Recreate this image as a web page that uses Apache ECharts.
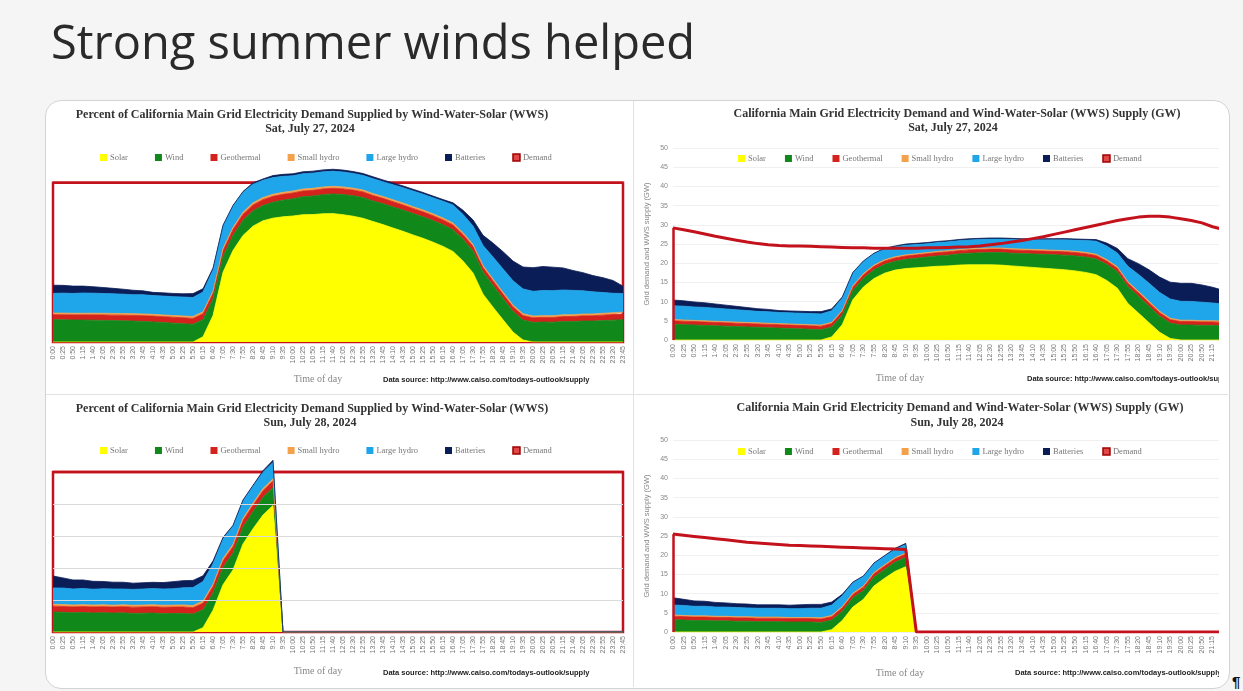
<!DOCTYPE html>
<html><head><meta charset="utf-8">
<script src="https://cdn.jsdelivr.net/npm/echarts@6/dist/echarts.min.js"></script>
<style>
html,body{margin:0;padding:0;background:#f4f5f4;width:1243px;height:691px;overflow:hidden;}
#panel{position:absolute;left:45px;top:100px;width:1183px;height:587px;border:1px solid #d2d4d2;border-radius:16px;background:#fff;}
.vdiv{position:absolute;left:633px;top:101px;width:1px;height:586px;background:#e2e2e2;}
.hdiv{position:absolute;left:46px;top:394px;width:1182px;height:1px;background:#e2e2e2;}
#c{position:absolute;left:0;top:0;width:1219px;height:691px;}
#pil{position:absolute;left:1232px;top:673px;font:bold 15px "Liberation Sans";color:#111;}
</style></head><body>
<div id="panel"></div><div class="vdiv"></div><div class="hdiv"></div>
<div id="c"></div>
<span id="pil">¶</span>
<script>
// ---- categories (time of day, 25-minute steps) ----
const categories = ["0:00","0:25","0:50","1:15","1:40","2:05","2:30","2:55","3:20","3:45",
"4:10","4:35","5:00","5:25","5:50","6:15","6:40","7:05","7:30","7:55",
"8:20","8:45","9:10","9:35","10:00","10:25","10:50","11:15","11:40","12:05",
"12:30","12:55","13:20","13:45","14:10","14:35","15:00","15:25","15:50","16:15",
"16:40","17:05","17:30","17:55","18:20","18:45","19:10","19:35","20:00","20:25",
"20:50","21:15","21:40","22:05","22:30","22:55","23:20","23:45"];

// ---- Sat, July 27, 2024 (GW) ----
const satDemand = [29.2,28.7,28.2,27.6,27.0,26.5,26.0,25.5,25.1,24.8,
24.6,24.5,24.5,24.4,24.3,24.2,24.1,24.0,24.0,23.9,
23.9,23.9,23.9,23.9,24.0,24.0,24.1,24.2,24.3,24.5,
24.8,25.1,25.5,25.9,26.4,26.9,27.5,28.1,28.7,29.3,
29.9,30.5,31.1,31.6,32.0,32.2,32.2,32.0,31.6,31.1,
30.5,29.5,28.8,28.1,27.4,26.8,26.2,25.7];
const satSolar = [0,0,0,0,0,0,0,0,0,0,
0,0,0,0,0,0.8,4.0,10.5,13.8,16.0,
17.4,18.2,18.6,18.8,19.0,19.2,19.3,19.5,19.6,19.6,
19.6,19.5,19.3,19.1,18.9,18.7,18.5,18.3,18.0,17.6,
17.0,15.5,13.5,9.5,7.0,4.5,2.0,0.4,0,0,
0,0,0,0,0,0,0,0];
const satWind = [4.1,4.0,3.9,3.8,3.7,3.6,3.5,3.4,3.3,3.2,
3.1,3.0,2.9,2.8,2.7,2.6,2.5,2.4,2.3,2.3,
2.3,2.3,2.4,2.5,2.6,2.7,2.8,2.9,3.0,3.1,
3.2,3.3,3.3,3.4,3.5,3.6,3.7,3.8,3.9,4.0,
4.1,4.2,4.3,4.4,4.4,4.3,4.2,4.0,3.9,3.9,
3.8,3.8,3.7,3.7,3.6,3.6,3.6,3.6];
const satGeo = [0.92,0.91,0.91,0.90,0.90,0.90,0.89,0.89,0.89,0.90,
0.90,0.90,0.91,0.91,0.90,0.90,0.89,0.89,0.88,0.88,
0.88,0.88,0.88,0.87,0.87,0.87,0.87,0.87,0.87,0.87,
0.87,0.87,0.87,0.87,0.87,0.87,0.88,0.88,0.88,0.88,
0.89,0.89,0.89,0.90,0.90,0.90,0.91,0.91,0.91,0.91,
0.91,0.91,0.92,0.92,0.92,0.92,0.92,0.92];
const satSmallHydro = [0.30,0.30,0.29,0.29,0.28,0.28,0.28,0.27,0.27,0.27,
0.27,0.27,0.27,0.28,0.29,0.30,0.31,0.32,0.32,0.32,
0.32,0.31,0.31,0.30,0.30,0.30,0.30,0.30,0.30,0.30,
0.30,0.30,0.30,0.30,0.31,0.31,0.31,0.32,0.33,0.34,
0.35,0.36,0.37,0.38,0.38,0.38,0.37,0.36,0.35,0.34,
0.33,0.33,0.32,0.32,0.31,0.31,0.30,0.30];
const satLargeHydro = [3.6,3.6,3.5,3.5,3.4,3.3,3.2,3.1,3.0,3.0,
2.9,2.9,2.9,2.9,2.9,3.0,3.2,3.4,3.2,3.0,
2.8,2.6,2.5,2.4,2.3,2.3,2.3,2.3,2.3,2.3,
2.3,2.3,2.4,2.4,2.5,2.6,2.7,2.8,2.9,3.1,
3.4,3.5,3.6,4.0,4.4,4.7,4.9,5.0,4.9,4.9,
4.8,4.6,4.4,4.1,3.8,3.5,3.2,3.0];
const satBatteries = [1.5,1.4,1.3,1.2,1.1,1.0,0.9,0.8,0.7,0.6,
0.5,0.5,0.5,0.5,0.6,0.5,0.3,0.1,0.1,0.1,
0.2,0.2,0.3,0.3,0.3,0.3,0.3,0.3,0.3,0.3,
0.3,0.3,0.3,0.3,0.3,0.3,0.3,0.3,0.3,0.3,
0.4,0.8,1.2,2.0,2.8,3.5,4.0,4.4,4.7,4.7,
4.5,4.1,3.6,3.2,2.8,2.5,2.1,1.2];

// ---- Sun, July 28, 2024 (GW), data ends after 9:10 ----
const sunDemand = [25.5,25.2,24.9,24.6,24.3,24.0,23.7,23.4,23.2,23.0,
22.8,22.6,22.5,22.4,22.3,22.2,22.1,22.0,21.9,21.8,
21.7,21.6,21.5,0,0,0,0,0,0,0,
0,0,0,0,0,0,0,0,0,0,
0,0,0,0,0,0,0,0,0,0,
0,0,0,0,0,0,0,0];
const sunSolar = [0,0,0,0,0,0,0,0,0,0,
0,0,0,0,0,0.6,3.0,6.5,8.5,12.0,
14.0,15.8,17.0,0,0,0,0,0,0,0,
0,0,0,0,0,0,0,0,0,0,
0,0,0,0,0,0,0,0,0,0,
0,0,0,0,0,0,0,0];
const sunWind = [3.2,3.1,3.0,3.0,2.9,2.9,2.8,2.8,2.7,2.7,
2.7,2.6,2.6,2.6,2.5,2.5,2.4,2.4,2.3,2.3,
2.3,2.4,2.4,0,0,0,0,0,0,0,
0,0,0,0,0,0,0,0,0,0,
0,0,0,0,0,0,0,0,0,0,
0,0,0,0,0,0,0,0];
const sunGeo = [0.92,0.92,0.91,0.91,0.91,0.90,0.90,0.90,0.90,0.90,
0.90,0.90,0.90,0.90,0.89,0.89,0.89,0.88,0.88,0.88,
0.88,0.88,0.88,0,0,0,0,0,0,0,
0,0,0,0,0,0,0,0,0,0,
0,0,0,0,0,0,0,0,0,0,
0,0,0,0,0,0,0,0];
const sunSmallHydro = [0.30,0.30,0.29,0.29,0.29,0.28,0.28,0.28,0.28,0.28,
0.28,0.28,0.28,0.29,0.30,0.31,0.32,0.32,0.32,0.31,
0.31,0.30,0.30,0,0,0,0,0,0,0,
0,0,0,0,0,0,0,0,0,0,
0,0,0,0,0,0,0,0,0,0,
0,0,0,0,0,0,0,0];
const sunLargeHydro = [2.6,2.6,2.5,2.5,2.4,2.4,2.4,2.3,2.3,2.3,
2.3,2.3,2.3,2.4,2.5,2.7,2.8,2.7,2.5,2.4,
2.3,2.2,2.2,0,0,0,0,0,0,0,
0,0,0,0,0,0,0,0,0,0,
0,0,0,0,0,0,0,0,0,0,
0,0,0,0,0,0,0,0];
const sunBatteries = [1.9,1.6,1.4,1.3,1.2,1.1,1.0,1.0,0.9,0.9,
0.9,0.9,1.0,1.0,1.0,0.8,0.4,0.2,0.1,0.1,
0.1,0.2,0.3,0,0,0,0,0,0,0,
0,0,0,0,0,0,0,0,0,0,
0,0,0,0,0,0,0,0,0,0,
0,0,0,0,0,0,0,0];

const seriesNames = ['Solar','Wind','Geothermal','Small hydro','Large hydro','Batteries'];
const seriesColors = ['#ffff00','#11891a','#d4231c','#f5a04a','#1fa6ea','#0b1d57'];
const demandColor = '#c3121c';

const days = [
  {dem: satDemand, parts: [satSolar, satWind, satGeo, satSmallHydro, satLargeHydro, satBatteries]},
  {dem: sunDemand, parts: [sunSolar, sunWind, sunGeo, sunSmallHydro, sunLargeHydro, sunBatteries]}
];
const panels = [
  {day:0, pct:true,  grid:{left:53, top:151, width:570, height:191}, legend:{left:100, top:153, gap:27}},
  {day:0, pct:false, grid:{left:673, top:148, width:603, height:192}, legend:{left:738, top:154, gap:19}},
  {day:1, pct:true,  grid:{left:53, top:440, width:570, height:192}, legend:{left:100, top:446, gap:27}},
  {day:1, pct:false, grid:{left:673, top:440, width:603, height:192}, legend:{left:738, top:447, gap:19}}
];

function toPct(arr, dem){ return arr.map((v,i)=> dem[i] > 0 ? +(v/dem[i]*100).toFixed(2) : 0); }

const grid=[], xAxis=[], yAxis=[], series=[], legend=[];
const legendData = seriesNames.concat(['Demand']).map(n => n === 'Demand'
  ? {name:n, itemStyle:{color:'#e04848', borderColor:'#a00000', borderWidth:1.5}}
  : {name:n});

panels.forEach((p, g) => {
  const d = days[p.day];
  grid.push(Object.assign({outerBoundsMode:'none', containLabel:false}, p.grid));
  xAxis.push({type:'category', gridIndex:g, data:categories, boundaryGap:false,
    axisLine:{show:false}, axisTick:{show:false}, splitLine:{show:false},
    axisLabel:{rotate:90, interval:0, fontSize:7, color:'#777', margin:4, fontFamily:'Liberation Sans'}});
  if (p.pct) {
    yAxis.push({type:'value', gridIndex:g, min:0, max:120, show:false});
  } else {
    yAxis.push({type:'value', gridIndex:g, min:0, max:50, interval:5,
      axisLine:{show:false}, axisTick:{show:false},
      axisLabel:{fontSize:7, color:'#888', margin:5, fontFamily:'Liberation Sans'},
      splitLine:{lineStyle:{color:'#f0f0f0', width:1}},
      name:'Grid demand and WWS supply (GW)', nameLocation:'middle', nameGap:22, nameRotate:90,
      nameTextStyle:{fontSize:7.5, color:'#888', fontFamily:'Liberation Sans'}});
  }
  if (p.pct) {
    const dser = {name:'Demand', type:'line', xAxisIndex:g, yAxisIndex:g, data: d.dem.map(()=>100),
      symbol:'none', z:1, silent:true, lineStyle:{color:demandColor, width:2.5}, itemStyle:{color:demandColor},
      markArea:{silent:true, data:[[{xAxis:categories[0], yAxis:0},{xAxis:categories[categories.length-1], yAxis:100}]],
        itemStyle:{color:'rgba(0,0,0,0)', borderColor:demandColor, borderWidth:2.5}}};
    if (p.day === 1) {
      dser.markLine = {silent:true, symbol:['none','none'], label:{show:false},
        lineStyle:{color:'#d9d9d9', width:1, type:'solid'},
        data:[{yAxis:20},{yAxis:40},{yAxis:60},{yAxis:80}]};
    }
    series.push(dser);
  }
  d.parts.forEach((arr, k) => {
    series.push({name:seriesNames[k], type:'line', xAxisIndex:g, yAxisIndex:g, stack:'st'+g,
      data: p.pct ? toPct(arr, d.dem) : arr, symbol:'none', z:3, silent:true,
      lineStyle:{width:0.8, color:seriesColors[k]}, itemStyle:{color:seriesColors[k]},
      areaStyle:{color:seriesColors[k], opacity:1}});
  });
  if (!p.pct) {
    series.push({name:'Demand', type:'line', xAxisIndex:g, yAxisIndex:g, data:d.dem,
      symbol:'none', z:4, silent:true, lineStyle:{color:demandColor, width:3}, itemStyle:{color:demandColor},
      markLine:{silent:true, symbol:['none','none'], label:{show:false},
        lineStyle:{color:demandColor, width:2.5, type:'solid'},
        data:[[{coord:[categories[0], 0]},{coord:[categories[0], d.dem[0]]}]]}});
  }
  legend.push({left:p.legend.left, top:p.legend.top, itemGap:p.legend.gap, itemWidth:7, itemHeight:7,
    icon:'rect', padding:0, selectedMode:false, data:legendData,
    textStyle:{fontSize:8.5, color:'#777', fontFamily:'Liberation Serif', padding:[0,0,0,-2]}});
});

const tTitleL = 'Percent of California Main Grid Electricity Demand Supplied by Wind-Water-Solar (WWS)';
const tTitleR = 'California Main Grid Electricity Demand and Wind-Water-Solar (WWS) Supply (GW)';
const src = 'Data source: http://www.caiso.com/todays-outlook/supply';
function txt(t, x, y, font, fill, align){
  return {type:'text', x:x, y:y, silent:true, z:50,
    style:{text:t, font:font, fill:fill, textAlign:align||'center', textVerticalAlign:'middle'}};
}
const tf = 'bold 12px "Liberation Serif"';
const graphic = [
  txt('Strong summer winds helped', 51, 46, '400 47px "Open Sans"', '#2a2a2a', 'left'),
  txt(tTitleL, 312, 115, tf, '#333'), txt('Sat, July 27, 2024', 310, 129, tf, '#333'),
  txt(tTitleR, 957, 114, tf, '#333'), txt('Sat, July 27, 2024', 953, 128, tf, '#333'),
  txt(tTitleL, 312, 409, tf, '#333'), txt('Sun, July 28, 2024', 310, 423, tf, '#333'),
  txt(tTitleR, 960, 408, tf, '#333'), txt('Sun, July 28, 2024', 957, 423, tf, '#333'),
  txt('Time of day', 318, 379, '10px "Liberation Serif"', '#888'),
  txt('Time of day', 900, 378, '10px "Liberation Serif"', '#888'),
  txt('Time of day', 318, 671, '10px "Liberation Serif"', '#888'),
  txt('Time of day', 900, 673, '10px "Liberation Serif"', '#888'),
  txt(src, 383, 380, 'bold 7.5px "Liberation Sans"', '#222', 'left'),
  txt(src, 1027, 379, 'bold 7.5px "Liberation Sans"', '#222', 'left'),
  txt(src, 383, 673, 'bold 7.5px "Liberation Sans"', '#222', 'left'),
  txt(src, 1015, 673, 'bold 7.5px "Liberation Sans"', '#222', 'left')
];

const chart = echarts.init(document.getElementById('c'), null, {renderer:'canvas'});
chart.setOption({backgroundColor:'transparent', animation:false, grid, xAxis, yAxis, series, legend, graphic});
</script>
</body></html>
